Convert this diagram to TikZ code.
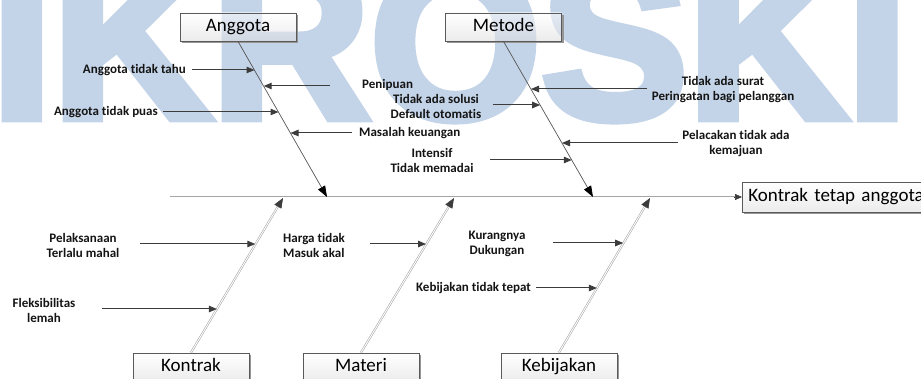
\documentclass[tikz,border=0pt]{standalone}
\usepackage{fontspec}
\setmainfont{Carlito}[Ligatures={NoCommon}]
\newfontfamily\wmfont[BoldFeatures={FakeBold=4}]{Liberation Sans}
\usetikzlibrary{arrows.meta,calc}

\definecolor{wmblue}{RGB}{196,212,232}
\definecolor{linegray}{RGB}{60,60,60}
\definecolor{boneline}{RGB}{85,85,85}
\definecolor{boxborder}{RGB}{90,90,90}
\definecolor{shadowgray}{RGB}{150,150,150}
\definecolor{lightbone}{RGB}{165,165,165}

\tikzset{
  catbox/.style={draw=boxborder, line width=0.8pt, top color=white, bottom color=black!14,
    fill opacity=0.55, text opacity=1, minimum width=116pt, minimum height=28pt,
    inner sep=0pt, text height=12pt, text depth=3pt, font=\fontsize{19}{19}\selectfont},
  cause/.style={inner sep=0pt, align=center, text=black!92,
    font=\bfseries\fontsize{13}{15}\selectfont},
  subarrow/.style={draw=linegray, line width=1pt, -{Triangle[length=8pt,width=6.5pt]}},
  topbone/.style={draw=boneline, line width=0.7pt, -{Triangle[length=11pt,width=8pt,color=black]}},
  lightline/.style={draw=lightbone, double=white, double distance=0.9pt, line width=0.55pt},
  bonetip/.style={draw=linegray, line width=0.6pt, -{Triangle[length=10pt,width=8pt]}},
  boxshade/.style={draw=shadowgray, line width=1.4pt}
}

\begin{document}
\begin{tikzpicture}[x=1pt,y=-1pt]
\useasboundingbox (0,0) rectangle (921,379);

% watermark lettering behind the diagram
\node[anchor=base west, inner sep=0pt, text=wmblue,
      font=\wmfont\bfseries\fontsize{220}{220}\selectfont] (wm) at (-9,118) {IKROSKI};

% category boxes
\node[catbox] (anggota)   at (238,27)    {Anggota};
\node[catbox] (metode)    at (503.5,27)  {Metode};
\node[catbox] (kontrak)   at (191,367)   {Kontrak};
\node[catbox] (materi)    at (361,367)   {Materi};
\node[catbox] (kebijakan) at (559,367)   {Kebijakan};
\node[catbox, anchor=west, minimum width=0pt, minimum height=30pt, text width=218pt,
      align=left, inner xsep=6pt] (effect) at (742,197) {Kontrak tetap anggota};

\foreach \b in {anggota,metode,kontrak,materi,kebijakan,effect}{
  \draw[boxshade] ([shift={(1.1,2)}]\b.north east) -- ([shift={(1.1,1.1)}]\b.south east)
                  -- ([shift={(2,1.1)}]\b.south west);
}

% spine
\coordinate (spineL) at (170,197);
\draw[lightline] (spineL) -- ([xshift=-6pt]effect.west);
\draw[draw=linegray, line width=0.6pt, -{Triangle[length=7pt,width=6pt]}]
  ([xshift=-8pt]effect.west) -- (effect.west);

% main bones
\coordinate (sA)  at (327,197);
\coordinate (sM)  at (593,197);
\coordinate (sK)  at (283,198);
\coordinate (sMa) at (454,198);
\coordinate (sKe) at (650,198);

\draw[topbone] (anggota.south) -- (sA);
\draw[topbone] (metode.south) -- (sM);

\foreach \b/\s in {kontrak/sK, materi/sMa, kebijakan/sKe}{
  \draw[lightline] (\b.north) -- ($(\s)!8pt!(\b.north)$);
  \draw[bonetip] ($(\s)!6pt!(\b.north)$) -- (\s);
}

% causes: Anggota
\node[cause, anchor=east] (c1) at (186,70) {Anggota tidak tahu};
\coordinate (t1) at (192,70);  \coordinate (h1) at (254.5,70);
\draw[subarrow] (t1) -- (h1);

\node[cause, anchor=west] (c2) at (362,85) {Penipuan};
\coordinate (t2) at (330,86);  \coordinate (h2) at (263.7,86);
\draw[subarrow] (t2) -- (h2);

\node[cause, anchor=east] (c3) at (158,112) {Anggota tidak puas};
\coordinate (t3) at (163,112); \coordinate (h3) at (278.5,112);
\draw[subarrow] (t3) -- (h3);

\node[cause, anchor=west] (c4) at (359,133) {Masalah keuangan};
\coordinate (t4) at (352,133); \coordinate (h4) at (290.5,133);
\draw[subarrow] (t4) -- (h4);

% causes: Metode
\node[cause] (c5) at (436,106) {Tidak ada solusi\\Default otomatis};
\coordinate (t5) at (493,105); \coordinate (h5) at (540.2,105);
\draw[subarrow] (t5) -- (h5);

\node[cause] (c6) at (723,90) {Tidak ada surat\\Peringatan bagi pelanggan};
\coordinate (t6) at (647,89);  \coordinate (h6) at (531,89);
\draw[subarrow] (t6) -- (h6);

\node[cause] (c7) at (736,144) {Pelacakan tidak ada\\kemajuan};
\coordinate (t7) at (678,143); \coordinate (h7) at (562,143);
\draw[subarrow] (t7) -- (h7);

\node[cause] (c8) at (432,160) {Intensif\\Tidak memadai};
\coordinate (t8) at (490,160); \coordinate (h8) at (571.8,160);
\draw[subarrow] (t8) -- (h8);

% causes: Kontrak
\node[cause] (c9) at (83,245) {Pelaksanaan\\Terlalu mahal};
\coordinate (t9) at (140,244); \coordinate (h9) at (255.3,244);
\draw[subarrow] (t9) -- (h9);

\node[cause] (c10) at (44,310) {Fleksibilitas\\lemah};
\coordinate (t10) at (102,309); \coordinate (h10) at (216.9,309);
\draw[subarrow] (t10) -- (h10);

% causes: Materi
\node[cause, anchor=west, align=left] (c11) at (283,245) {Harga tidak\\Masuk akal};
\coordinate (t11) at (370,244); \coordinate (h11) at (426,244);
\draw[subarrow] (t11) -- (h11);

% causes: Kebijakan
\node[cause] (c12) at (497,244) {Kurangnya\\Dukungan};
\coordinate (t12) at (553,243); \coordinate (h12) at (623.2,243);
\draw[subarrow] (t12) -- (h12);

\node[cause, anchor=east] (c13) at (531,288) {Kebijakan tidak tepat};
\coordinate (t13) at (536,288); \coordinate (h13) at (596.9,288);
\draw[subarrow] (t13) -- (h13);
\end{tikzpicture}
\end{document}
